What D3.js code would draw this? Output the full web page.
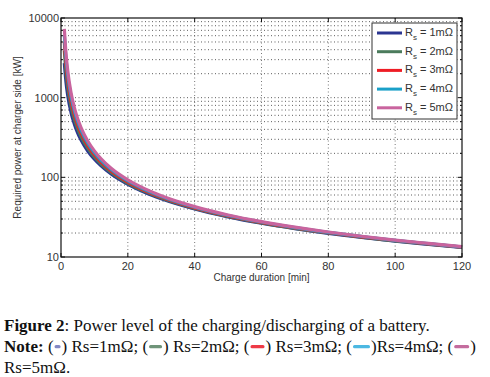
<!DOCTYPE html>
<html><head><meta charset="utf-8">
<script src="https://cdn.jsdelivr.net/npm/d3@7/dist/d3.min.js"></script>
<style>body{margin:0;background:#fff}svg{display:block}</style>
</head><body>
<svg id="c" width="490" height="377"></svg>
<script>
const times = [1,1.5,2,3,4,5,6,8,10,12,15,20,25,30,40,50,60,70,80,90,100,110,120];
const rs1 = [2719,1558,1073,651,465,360,294,214,168.7,139,109.9,81.5,64.7,53.7,40.0,31.9,26.5,22.7,19.8,17.6,15.8,14.4,13.2];
const rs2 = [3865,2067,1359,779,536,406,326,232,180,147,115,84.3,66.6,54.9,40.7,32.3,26.8,22.9,20.0,17.8,15.9,14.5,13.3];
const rs3 = [5012,2577,1646,906,608,452,358,250,192,155,120,87.2,68.4,56.2,41.4,32.8,27.2,23.2,20.2,17.9,16.1,14.6,13.3];
const rs4 = [6158,3086,1932,1034,680,498,390,268,203,163,125,90.1,70.2,57.5,42.2,33.2,27.5,23.4,20.4,18.1,16.2,14.7,13.4];
const rs5 = [7305,3596,2219,1161,751,544,422,286,215,171,130,93.0,72.1,58.8,42.9,33.7,27.8,23.7,20.6,18.2,16.3,14.8,13.5];
const seriesNames = ["1mΩ","2mΩ","3mΩ","4mΩ","5mΩ"];
const seriesColors = ["#2b3591","#4b7b5c","#ee1d25","#1aa0c8","#c9649e"];
const xTicks = [0,20,40,60,80,100,120];
const yTicks = [10,100,1000,10000];

const svg = d3.select("#c");
const L=61,R=462,T=18,B=257;
const x = d3.scaleLinear().domain([0,120]).range([L,R]);
const y = d3.scaleLog().domain([10,10000]).range([B,T]);

// grid
const minor=[];
for (let d=10; d<10000; d*=10) for (let k=2;k<=9;k++) minor.push(d*k);
const g = svg.append("g");
g.selectAll(".ym").data(minor.concat([100,1000])).enter().append("line")
 .attr("x1",L).attr("x2",R).attr("y1",d=>y(d)).attr("y2",d=>y(d))
 .attr("stroke","#333").attr("stroke-width",0.8).attr("stroke-dasharray","1,2.5");
g.selectAll(".xg").data(xTicks.slice(1,-1)).enter().append("line")
 .attr("y1",T).attr("y2",B).attr("x1",d=>x(d)).attr("x2",d=>x(d))
 .attr("stroke","#555").attr("stroke-width",0.8).attr("stroke-dasharray","1,2.5");

// curves
const line = d3.line().x((d,i)=>x(times[i])).y(d=>y(d)).curve(d3.curveMonotoneX);
[rs1,rs2,rs3,rs4,rs5].forEach((s,i)=>{
  svg.append("path").attr("d",line(s)).attr("fill","none")
   .attr("stroke",seriesColors[i]).attr("stroke-width",3.2).attr("stroke-linejoin","round");
});

// box
svg.append("rect").attr("x",L).attr("y",T).attr("width",R-L).attr("height",B-T)
 .attr("fill","none").attr("stroke","#111").attr("stroke-width",1.2);

// ticks inward
const tk = svg.append("g").attr("stroke","#111").attr("stroke-width",1);
xTicks.forEach(v=>{
  tk.append("line").attr("x1",x(v)).attr("x2",x(v)).attr("y1",B).attr("y2",B-4);
  tk.append("line").attr("x1",x(v)).attr("x2",x(v)).attr("y1",T).attr("y2",T+4);
});
yTicks.forEach(v=>{
  tk.append("line").attr("x1",L).attr("x2",L+4).attr("y1",y(v)).attr("y2",y(v));
  tk.append("line").attr("x1",R).attr("x2",R-4).attr("y1",y(v)).attr("y2",y(v));
});
minor.forEach(v=>{
  tk.append("line").attr("x1",L).attr("x2",L+2).attr("y1",y(v)).attr("y2",y(v));
  tk.append("line").attr("x1",R).attr("x2",R-2).attr("y1",y(v)).attr("y2",y(v));
});

// tick labels
const lab = svg.append("g").attr("font-family","Liberation Sans, Arial, sans-serif").attr("font-size",11).attr("fill","#333");
xTicks.forEach(v=>lab.append("text").attr("x",x(v)).attr("y",B+13).attr("text-anchor","middle").text(v));
yTicks.forEach(v=>lab.append("text").attr("x",L-2).attr("y",y(v)+4).attr("text-anchor","end").text(v));

svg.append("text").attr("x",(L+R)/2).attr("y",281).attr("text-anchor","middle")
 .attr("font-family","Liberation Sans, Arial, sans-serif").attr("font-size",10).attr("fill","#333")
 .text("Charge duration [min]");
svg.append("text").attr("transform",`translate(21,${(T+B)/2}) rotate(-90)`).attr("text-anchor","middle")
 .attr("font-family","Liberation Sans, Arial, sans-serif").attr("font-size",10).attr("fill","#333")
 .text("Required power at charger side [kW]");

// legend
const lg = svg.append("g");
lg.append("rect").attr("x",372).attr("y",23).attr("width",85).attr("height",96)
 .attr("fill","#fff").attr("stroke","#333").attr("stroke-width",1);
seriesNames.forEach((n,i)=>{
  const yy = 33 + i*18.7;
  lg.append("line").attr("x1",377).attr("x2",402).attr("y1",yy).attr("y2",yy)
   .attr("stroke",seriesColors[i]).attr("stroke-width",3);
  const t = lg.append("text").attr("x",405).attr("y",yy+3).attr("font-family","Liberation Sans, Arial, sans-serif")
   .attr("font-size",11).attr("fill","#333");
  t.append("tspan").text("R");
  t.append("tspan").attr("font-size",8).attr("dy",4).text("s");
  t.append("tspan").attr("dy",-4).text(" = "+n);
});

// caption
const FONT = "Liberation Serif, Times New Roman, serif";
const cap = svg.append("g").attr("font-family",FONT).attr("font-size",17).attr("fill","#111");
const c1 = cap.append("text").attr("x",4).attr("y",331);
c1.append("tspan").attr("font-weight","bold").text("Figure 2");
c1.append("tspan").text(": Power level of the charging/discharging of a battery.");

const lightCols = ["#8489c4","#6f9479","#ee3a46","#4cb8e2","#c46c9e"];
const symW = [6,13,14,17,15];
const parts = [{t:"Note:",b:true},{t:" ("}];
seriesNames.forEach((n,i)=>{
  if (i>0) parts.push({t:(i==4?" (":" (")});
  parts.push({s:i});
  if (i<4) parts.push({t:(i==3?")":") ")+"Rs="+n+";"});
  else parts.push({t:")"});
});
let cx = 4; const by = 352;
parts.forEach(p=>{
  if (p.s!==undefined){
    cx += 1;
    cap.append("rect").attr("x",cx).attr("y",by-7).attr("width",symW[p.s]).attr("height",3.2)
      .attr("rx",1.5).attr("fill",lightCols[p.s]);
    cx += symW[p.s]+1;
  } else {
    const t = cap.append("text").attr("x",cx).attr("y",by).attr("xml:space","preserve")
      .style("white-space","pre").attr("font-weight",p.b?"bold":null).text(p.t);
    cx += t.node().getComputedTextLength();
  }
});
cap.append("text").attr("x",4).attr("y",373).text("Rs=5mΩ.");
</script>
</body></html>
